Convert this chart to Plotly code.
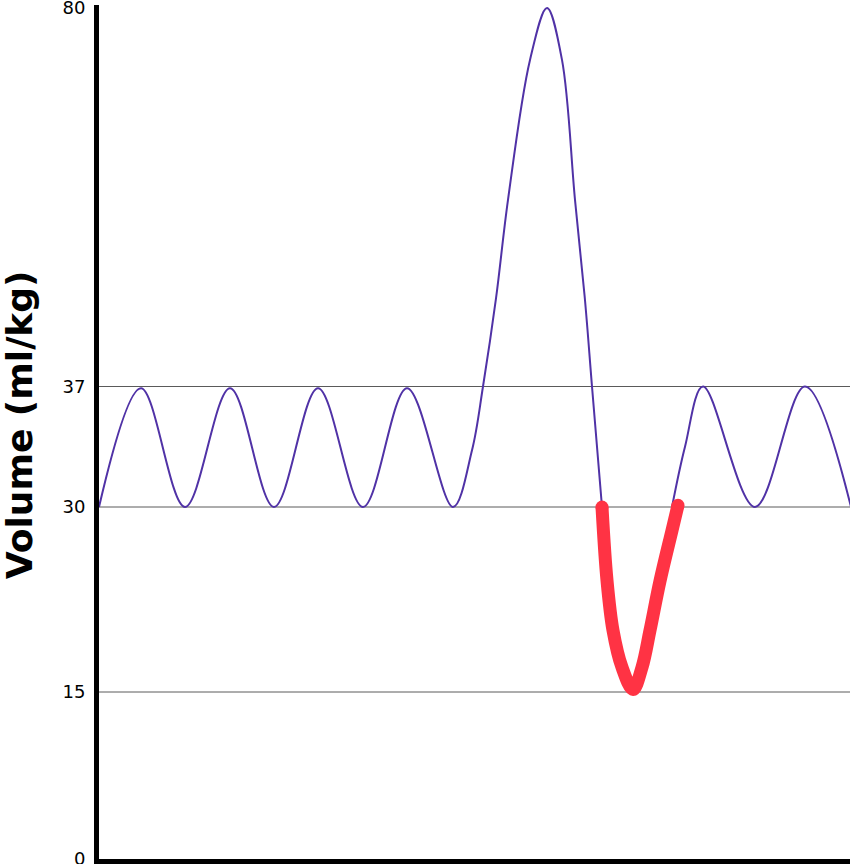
import numpy as np
import plotly.graph_objects as go

# volume trace (time in arbitrary units, volume in ml/kg)
breath_t = [0, 42, 86, 131, 175, 219, 264, 308, 354,
            373, 384, 397, 409, 431, 448, 463, 476, 486, 493, 503]
breath_v = [30, 36.9, 30, 36.9, 30, 36.9, 30, 36.9, 30,
            33.3, 37, 47, 58.2, 74.1, 80, 74.1, 58.2, 46.8, 37, 30]
after_t = [573, 586, 604, 656, 706, 752]
after_v = [30, 33.5, 37, 30, 37, 30]
dip_t = [503, 508, 514, 523, 534, 543, 551, 561, 573, 579]
dip_v = [30, 24.05, 20, 17, 15.2, 17, 20, 24, 28.1, 30.1]

tick_values = [0, 15, 30, 37, 80]
grid_values = [15, 30, 37]

# the axis is not linear: piecewise scale between the labelled volumes
scale_vol = [0, 15, 30, 37, 80]
scale_pos = [0, 167, 352, 472.5, 851]


def to_axis(v):
    return np.interp(np.asarray(v, dtype=float), scale_vol, scale_pos)


purple_t = breath_t + [np.nan] + after_t
purple_y = list(to_axis(breath_v)) + [np.nan] + list(to_axis(after_v))

fig = go.Figure()
fig.add_scatter(x=purple_t, y=purple_y, mode="lines", connectgaps=False,
                line=dict(color="#5032a6", width=2, shape="spline", smoothing=1.0), hoverinfo="skip")
dip_sizes = [13 if i in (0, len(dip_t) - 1) else 0 for i in range(len(dip_t))]
fig.add_scatter(x=dip_t, y=to_axis(dip_v), mode="lines+markers",
                line=dict(color="#ff3344", width=13, shape="spline", smoothing=1.0),
                marker=dict(color="#ff3344", size=dip_sizes, opacity=1, line=dict(width=0)),
                hoverinfo="skip")

for g in grid_values:
    yy = float(to_axis(g))
    fig.add_shape(type="line", xref="paper", x0=0, x1=1, y0=yy, y1=yy,
                  line=dict(color="#5a5a5a", width=1), layer="below")

# y title placed by hand so it sits where the original has it
fig.add_annotation(text="Volume (ml/kg)", textangle=-90, showarrow=False,
                   xref="paper", yref="paper", x=-0.1065, y=0.508, xanchor="center", yanchor="middle",
                   font=dict(size=36, weight="bold", family="DejaVu Sans", color="black"))

fig.update_layout(
    width=850, height=864,
    margin=dict(l=99, r=0, t=5, b=5, autoexpand=False),
    paper_bgcolor="white", plot_bgcolor="white",
    showlegend=False,
    font=dict(family="DejaVu Sans", color="black"),
    xaxis=dict(range=[0, 751], showgrid=False, zeroline=False, showticklabels=False,
               showline=True, linecolor="black", linewidth=5, ticks="", automargin=False),
    yaxis=dict(range=[0, 854], showgrid=False, zeroline=False, automargin=False,
               tickvals=list(to_axis(tick_values)), ticktext=[str(v) for v in tick_values],
               tickfont=dict(size=18), ticks="", ticklabelstandoff=5, ticklabeloverflow="allow",
               showline=True, linecolor="black", linewidth=5),
)

fig.write_html("out.html", config={"displayModeBar": False},
               post_script="document.body.style.margin='0';")
